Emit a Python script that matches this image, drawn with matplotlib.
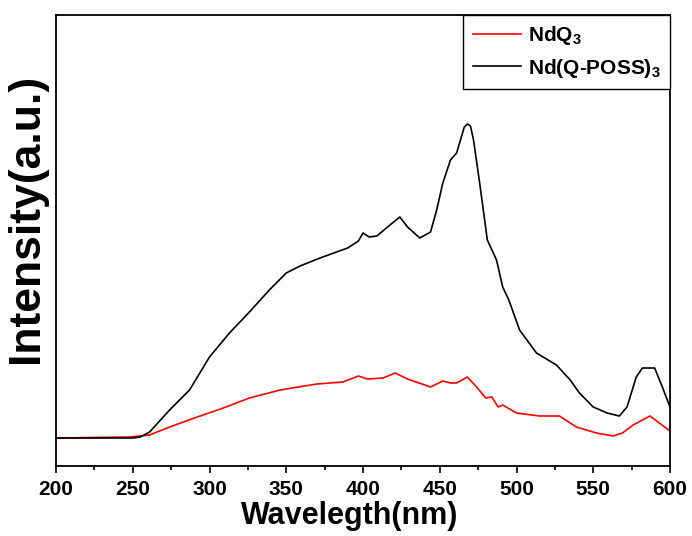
import matplotlib
matplotlib.use("Agg")
import matplotlib.pyplot as plt
from matplotlib.ticker import MultipleLocator

plt.rcParams['font.family'] = ['Liberation Sans', 'DejaVu Sans']
plt.rcParams['font.weight'] = 'bold'
plt.rcParams['mathtext.fontset'] = 'custom'
plt.rcParams['mathtext.rm'] = 'Liberation Sans:bold'
plt.rcParams['mathtext.bf'] = 'Liberation Sans:bold'
plt.rcParams['mathtext.default'] = 'bf'

# Nd(Q-POSS)3 spectrum
wl_black = [200, 250, 255, 261, 274, 287, 300, 313, 326, 339, 350, 359, 372, 390, 397, 400,
            404, 409, 416, 424, 429, 437, 444, 448, 452, 457, 461, 466, 468, 470, 472, 476,
            481, 487, 491, 495, 502, 513, 526, 535, 541, 550, 559, 567, 572, 578, 582, 590,
            595, 600]
int_black = [28, 28, 29, 34, 56, 76, 109, 133, 154, 176, 193, 200, 208, 218, 225, 233,
             229, 230, 239, 249, 239, 228, 234, 256, 283, 306, 313, 339, 342, 340, 326, 283,
             226, 206, 179, 166, 136, 113, 101, 86, 73, 59, 53, 50, 59, 89, 98, 98,
             79, 59]

# NdQ3 spectrum
wl_red = [200, 248, 261, 274, 292, 309, 326, 346, 354, 370, 387, 397, 403, 413, 421, 429,
          444, 452, 457, 461, 468, 474, 480, 484, 488, 491, 500, 515, 528, 539, 552, 563,
          569, 576, 587, 593, 600]
int_red = [28, 29, 31, 39, 49, 58, 68, 76, 78, 82, 84, 90, 87, 88, 93, 87,
           79, 85, 83, 83, 89, 79, 68, 69, 59, 61, 53, 50, 50, 39, 33, 30,
           33, 41, 50, 43, 35]

xticks = [200, 250, 300, 350, 400, 450, 500, 550, 600]

fig = plt.figure(figsize=(6.92, 5.36), dpi=100)
ax = fig.add_axes([56/692, 70/536, 614/692, 451/536])

ax.plot(wl_red, int_red, color='#ff0000', lw=1.2, label=r'NdQ$_{3}$')
ax.plot(wl_black, int_black, color='black', lw=1.2, label=r'Nd(Q-POSS)$_{3}$')

ax.set_xlim(200, 600)
ax.set_ylim(0, 451)
ax.set_xticks(xticks)
ax.xaxis.set_minor_locator(MultipleLocator(25))
ax.set_yticks([])
ax.tick_params(axis='x', which='major', direction='out', length=5, width=1.2,
               labelsize=15, pad=5, top=False)
ax.tick_params(axis='x', which='minor', direction='out', length=3, width=1.2, top=False)
for lbl in ax.get_xticklabels():
    lbl.set_fontweight('bold')
for s in ax.spines.values():
    s.set_linewidth(1.3)

ax.set_xlabel('Wavelegth(nm)', fontsize=22, fontweight='bold')
ax.xaxis.set_label_coords(0.479, -0.077)
ax.set_ylabel('Intensity(a.u.)', fontsize=32, fontweight='bold')
ax.yaxis.set_label_coords(-0.014, 0.55)

leg = ax.legend(loc='upper right', borderaxespad=0, fancybox=False, edgecolor='black',
                fontsize=15, handlelength=2.3, handletextpad=0.35, borderpad=0.45,
                labelspacing=0.45, framealpha=1)
leg.get_frame().set_linewidth(1.0)
for t in leg.get_texts():
    t.set_fontweight('bold')

fig.savefig('out.png', dpi=100)
